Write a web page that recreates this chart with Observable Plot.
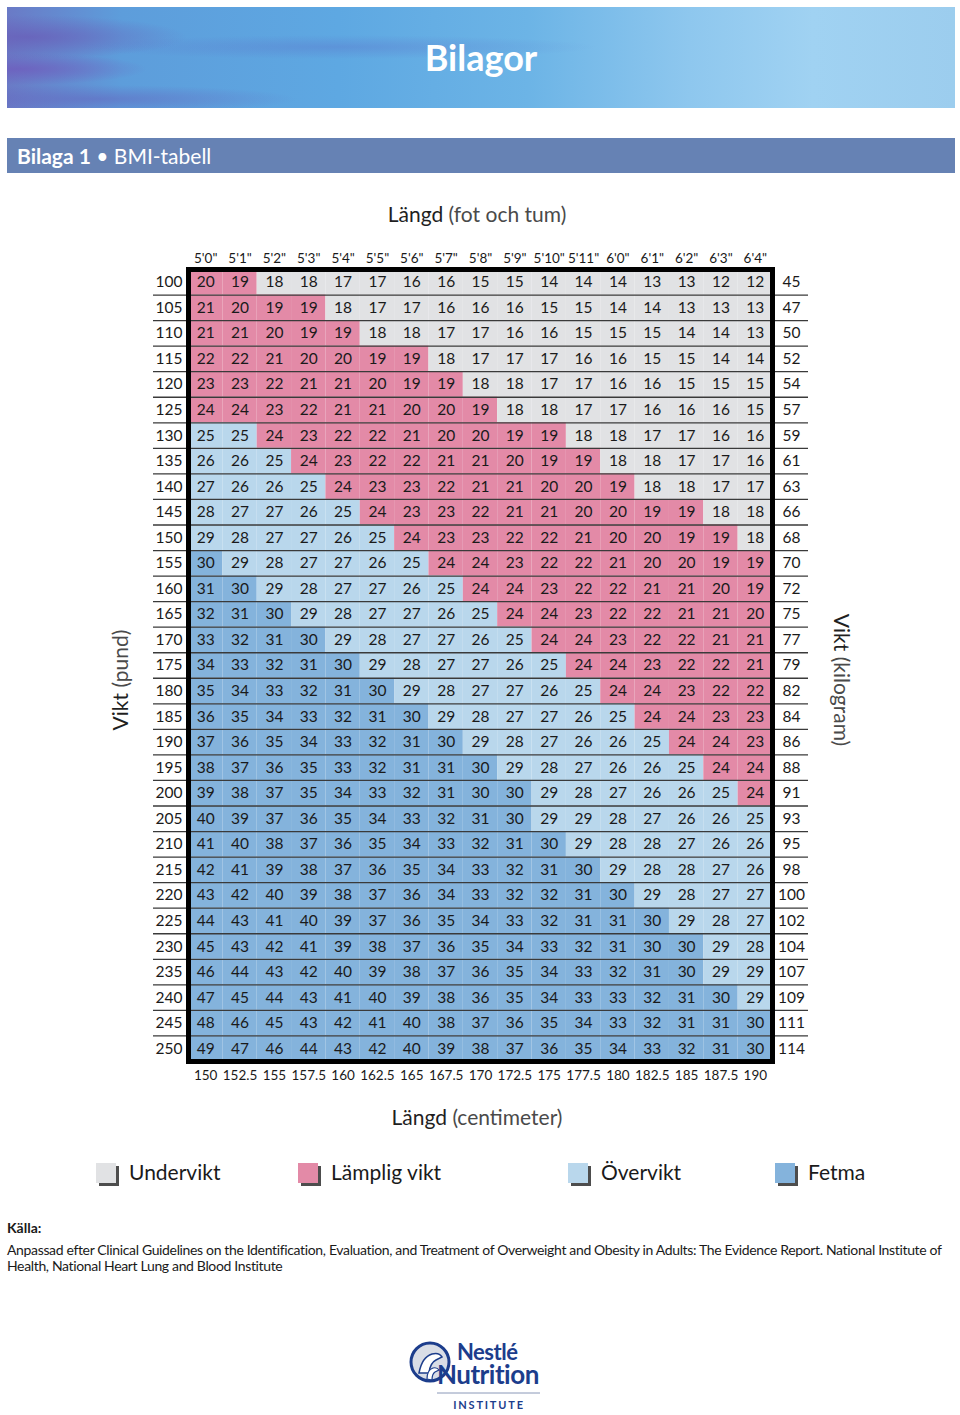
<!DOCTYPE html>
<html>
<head>
<meta charset="utf-8">
<script src="https://cdn.jsdelivr.net/npm/d3@7"></script>
<script src="https://cdn.jsdelivr.net/npm/@observablehq/plot@0.6"></script>
<style>
  body { margin: 0; background: #fff; }
  #page { position: relative; width: 960px; height: 1415px; overflow: hidden;
    font-family: Lato, "Open Sans", sans-serif; color: #1a1a1a; }
  .abs { position: absolute; }
  #banner { left: 7px; top: 7px; width: 948px; height: 101px;
    background:
      radial-gradient(ellipse 160px 22px at 20px 30px, rgba(105,95,185,0.8), rgba(105,95,185,0)),
      radial-gradient(ellipse 130px 16px at 10px 62px, rgba(110,95,190,0.85), rgba(110,95,190,0)),
      radial-gradient(ellipse 200px 14px at 90px 92px, rgba(100,100,190,0.55), rgba(100,100,190,0)),
      radial-gradient(ellipse 260px 12px at 330px 40px, rgba(90,110,200,0.35), rgba(90,110,200,0)),
      linear-gradient(90deg, #6a7ac6 0%, #5d9ddb 12%, #5ea8e2 35%, #6cb4e6 55%, #8ec7ee 72%, #a0d2f2 85%, #9ccdee 100%);
    color: #fff; text-align: center; font-size: 36px; font-weight: bold; line-height: 100px; }
  #section { left: 7px; top: 138px; width: 948px; height: 35px; background: #6682b4; color: #fff;
    font-size: 21px; line-height: 36px; box-sizing: border-box; padding-left: 10px; }
  .ttl { font-size: 21px; white-space: nowrap; color: #1f1f1f; }
  .lt { color: #4a4a4a; }
  .leg { top: 1158px; font-size: 21px; line-height: 28px; white-space: nowrap; }
  .sw { display: inline-block; width: 20px; height: 20px; vertical-align: -3px; margin-right: 13px;
    box-shadow: 3px 3px 0 #4d4d4d; }
  #source { left: 7px; top: 1220px; width: 952px; font-size: 14px; line-height: 16px; }
  #chart { left: 0; top: 230px; }
</style>
</head>
<body>
<div id="page">
  <div id="banner" class="abs">Bilagor</div>
  <div id="section" class="abs"><b>Bilaga 1</b> • BMI-tabell</div>
  <div class="abs ttl" style="left:0;width:954px;top:201px;text-align:center;">Längd <span class="lt">(fot och tum)</span></div>
  <div id="chart" class="abs"></div>
  <div class="abs ttl" style="left:0;width:954px;top:1104px;text-align:center;">Längd <span class="lt">(centimeter)</span></div>
  <div class="abs ttl" style="left:119px;top:680px;transform:translate(-50%,-50%) rotate(-90deg);">Vikt <span class="lt">(pund)</span></div>
  <div class="abs ttl" style="left:842px;top:680px;transform:translate(-50%,-50%) rotate(90deg);">Vikt <span class="lt">(kilogram)</span></div>
  <div id="legend"></div>
  <div id="source" class="abs"><b>Källa:</b><br><span style="display:block;margin-top:6px;white-space:nowrap;letter-spacing:-0.35px;">Anpassad efter Clinical Guidelines on the Identification, Evaluation, and Treatment of Overweight and Obesity in Adults: The Evidence Report. National Institute of<br>Health, National Heart Lung and Blood Institute</span></div>
  <svg class="abs" style="left:405px;top:1335px;" width="150" height="80">
    <circle cx="25" cy="27" r="19" fill="#d9dde6" stroke="#1c3d8c" stroke-width="3"/>
    <path d="M14 38 q3 -16 13 -19 q7 -2 10 3 l-6 3 q-6 3 -7 13 z" fill="#fff" stroke="#1c3d8c" stroke-width="1.5"/>
    <path d="M22 44 q0 -9 6 -11 q4 -1 6 2 l-4 2 q-3 2 -3 8 z" fill="#fff" stroke="#1c3d8c" stroke-width="1.2"/>
    <text x="52" y="25" font-size="22" fill="#1c3d8c" font-family="Lato" font-weight="bold" letter-spacing="-0.5">Nestlé</text>
    <text x="32" y="49" font-size="26" fill="#1c3d8c" font-family="Lato" font-weight="bold" letter-spacing="-0.5">Nutrition</text>
    <line x1="32" x2="135" y1="58" y2="58" stroke="#8a98b8" stroke-width="1"/>
    <text x="84" y="74" font-size="11" fill="#1c3d8c" font-family="Lato" font-weight="bold" letter-spacing="1.8" text-anchor="middle">INSTITUTE</text>
  </svg>
</div>
<script>
// ---- data ----
const heightsFt = [`5'0"`, `5'1"`, `5'2"`, `5'3"`, `5'4"`, `5'5"`, `5'6"`, `5'7"`, `5'8"`, `5'9"`, `5'10"`, `5'11"`, `6'0"`, `6'1"`, `6'2"`, `6'3"`, `6'4"`];
const heightsCm = [150, 152.5, 155, 157.5, 160, 162.5, 165, 167.5, 170, 172.5, 175, 177.5, 180, 182.5, 185, 187.5, 190];
const weightsLb = [100, 105, 110, 115, 120, 125, 130, 135, 140, 145, 150, 155, 160, 165, 170, 175, 180, 185, 190, 195, 200, 205, 210, 215, 220, 225, 230, 235, 240, 245, 250];
const weightsKg = [45, 47, 50, 52, 54, 57, 59, 61, 63, 66, 68, 70, 72, 75, 77, 79, 82, 84, 86, 88, 91, 93, 95, 98, 100, 102, 104, 107, 109, 111, 114];
const bmiRows = [
  [20, 19, 18, 18, 17, 17, 16, 16, 15, 15, 14, 14, 14, 13, 13, 12, 12],
  [21, 20, 19, 19, 18, 17, 17, 16, 16, 16, 15, 15, 14, 14, 13, 13, 13],
  [21, 21, 20, 19, 19, 18, 18, 17, 17, 16, 16, 15, 15, 15, 14, 14, 13],
  [22, 22, 21, 20, 20, 19, 19, 18, 17, 17, 17, 16, 16, 15, 15, 14, 14],
  [23, 23, 22, 21, 21, 20, 19, 19, 18, 18, 17, 17, 16, 16, 15, 15, 15],
  [24, 24, 23, 22, 21, 21, 20, 20, 19, 18, 18, 17, 17, 16, 16, 16, 15],
  [25, 25, 24, 23, 22, 22, 21, 20, 20, 19, 19, 18, 18, 17, 17, 16, 16],
  [26, 26, 25, 24, 23, 22, 22, 21, 21, 20, 19, 19, 18, 18, 17, 17, 16],
  [27, 26, 26, 25, 24, 23, 23, 22, 21, 21, 20, 20, 19, 18, 18, 17, 17],
  [28, 27, 27, 26, 25, 24, 23, 23, 22, 21, 21, 20, 20, 19, 19, 18, 18],
  [29, 28, 27, 27, 26, 25, 24, 23, 23, 22, 22, 21, 20, 20, 19, 19, 18],
  [30, 29, 28, 27, 27, 26, 25, 24, 24, 23, 22, 22, 21, 20, 20, 19, 19],
  [31, 30, 29, 28, 27, 27, 26, 25, 24, 24, 23, 22, 22, 21, 21, 20, 19],
  [32, 31, 30, 29, 28, 27, 27, 26, 25, 24, 24, 23, 22, 22, 21, 21, 20],
  [33, 32, 31, 30, 29, 28, 27, 27, 26, 25, 24, 24, 23, 22, 22, 21, 21],
  [34, 33, 32, 31, 30, 29, 28, 27, 27, 26, 25, 24, 24, 23, 22, 22, 21],
  [35, 34, 33, 32, 31, 30, 29, 28, 27, 27, 26, 25, 24, 24, 23, 22, 22],
  [36, 35, 34, 33, 32, 31, 30, 29, 28, 27, 27, 26, 25, 24, 24, 23, 23],
  [37, 36, 35, 34, 33, 32, 31, 30, 29, 28, 27, 26, 26, 25, 24, 24, 23],
  [38, 37, 36, 35, 33, 32, 31, 31, 30, 29, 28, 27, 26, 26, 25, 24, 24],
  [39, 38, 37, 35, 34, 33, 32, 31, 30, 30, 29, 28, 27, 26, 26, 25, 24],
  [40, 39, 37, 36, 35, 34, 33, 32, 31, 30, 29, 29, 28, 27, 26, 26, 25],
  [41, 40, 38, 37, 36, 35, 34, 33, 32, 31, 30, 29, 28, 28, 27, 26, 26],
  [42, 41, 39, 38, 37, 36, 35, 34, 33, 32, 31, 30, 29, 28, 28, 27, 26],
  [43, 42, 40, 39, 38, 37, 36, 34, 33, 32, 32, 31, 30, 29, 28, 27, 27],
  [44, 43, 41, 40, 39, 37, 36, 35, 34, 33, 32, 31, 31, 30, 29, 28, 27],
  [45, 43, 42, 41, 39, 38, 37, 36, 35, 34, 33, 32, 31, 30, 30, 29, 28],
  [46, 44, 43, 42, 40, 39, 38, 37, 36, 35, 34, 33, 32, 31, 30, 29, 29],
  [47, 45, 44, 43, 41, 40, 39, 38, 36, 35, 34, 33, 33, 32, 31, 30, 29],
  [48, 46, 45, 43, 42, 41, 40, 38, 37, 36, 35, 34, 33, 32, 31, 31, 30],
  [49, 47, 46, 44, 43, 42, 40, 39, 38, 37, 36, 35, 34, 33, 32, 31, 30]
];
const categoryNames = ["Undervikt", "Lämplig vikt", "Övervikt", "Fetma"];
const categoryColors = ["#e1e2e4", "#e38aa7", "#b9d7ec", "#84b3dc"];
const bmiThresholds = [19, 25, 30];
const legendLefts = [96, 298, 568, 775];

// ---- build ----
const FONT = 'Lato, "Open Sans", sans-serif';
const cells = weightsLb.flatMap((w, i) => heightsFt.map((h, j) => ({w, h, bmi: bmiRows[i][j]})));
const kgByLb = new Map(weightsLb.map((w, i) => [w, weightsKg[i]]));
const cmByFt = new Map(heightsFt.map((h, j) => [h, heightsCm[j]]));

const W = 960, H = 865, mt = 39, mb = 34, ml = 188, mr = 188;
const band = (H - mt - mb) / weightsLb.length;

const chart = Plot.plot({
  width: W, height: H,
  marginTop: mt, marginBottom: mb, marginLeft: ml, marginRight: mr,
  style: {fontFamily: FONT, fontSize: "15px", color: "#1a1a1a", background: "transparent", overflow: "visible"},
  x: {type: "band", domain: heightsFt, padding: 0, round: false, axis: null},
  y: {type: "band", domain: weightsLb, padding: 0, round: false, axis: null},
  color: {type: "threshold", domain: bmiThresholds, range: categoryColors},
  marks: [
    Plot.cell(cells, {x: "h", y: "w", fill: "bmi"}),
    Plot.ruleY(weightsLb.slice(1), {y: d => d, dy: -band / 2, insetLeft: -35, insetRight: -36, stroke: "#3a3a3a", strokeWidth: 1.3}),
    Plot.text(cells, {x: "h", y: "w", text: "bmi", fill: "#1a1a1a", fontSize: 15.5}),
    Plot.frame({stroke: "#000", strokeWidth: 5}),
    Plot.axisX({anchor: "top", tickSize: 0, tickPadding: 7, fontSize: 13.5, label: null}),
    Plot.axisX({anchor: "bottom", tickSize: 0, tickPadding: 9, fontSize: 13.5, tickFormat: h => cmByFt.get(h), label: null}),
    Plot.axisY({anchor: "left", tickSize: 0, tickPadding: 6, fontSize: 15.5, label: null}),
    Plot.axisY({anchor: "right", tickSize: 0, tickPadding: 19, fontSize: 15.5, textAnchor: "middle", tickFormat: w => kgByLb.get(w), label: null})
  ]
});
document.getElementById("chart").appendChild(chart);

const legend = document.getElementById("legend");
categoryNames.forEach((name, i) => {
  const d = document.createElement("div");
  d.className = "abs leg";
  d.style.left = legendLefts[i] + "px";
  d.innerHTML = `<span class="sw" style="background:${categoryColors[i]}"></span>${name}`;
  legend.appendChild(d);
});
</script>
</body>
</html>
